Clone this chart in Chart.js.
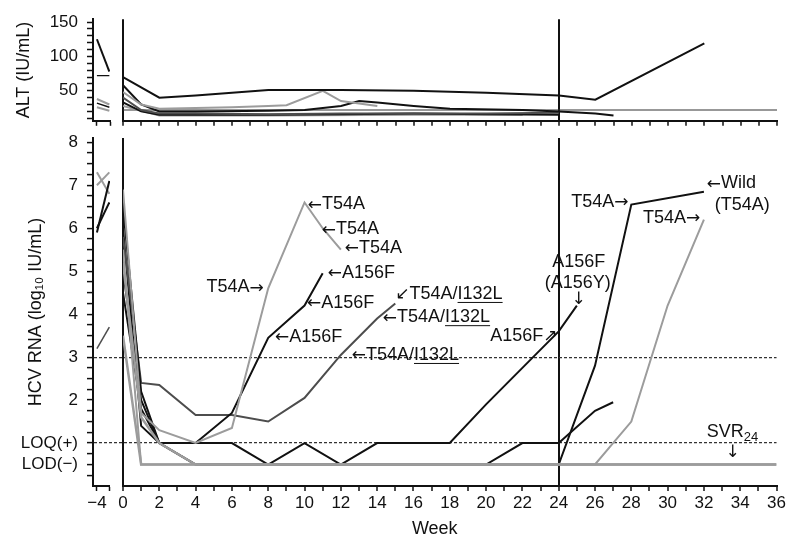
<!DOCTYPE html>
<html>
<head>
<meta charset="utf-8">
<script src="https://cdn.jsdelivr.net/npm/chart.js@4.4.1/dist/chart.umd.min.js"></script>
<style>
  html, body { margin: 0; padding: 0; background: #fff; }
  #wrap { position: relative; width: 788px; height: 538px; }
  canvas { position: absolute; left: 0; top: 0; }
</style>
</head>
<body>
<div id="wrap">
  <canvas id="rnaChart" width="788" height="538"></canvas>
  <canvas id="altChart" width="788" height="140"></canvas>
</div>
<script>
// ---- data (weeks / values) ----
// pre-treatment part of the broken axis (week -4, lines cut at the break)
const preWeeks = [-4, -3.05];
const preRna1 = [5.9, 7.1];
const preRna2 = [6.0, 6.6];
const preRna3 = [7.0, 7.3];
const preRna4 = [7.3, 6.8];
const preRna5 = [3.2, 3.7];
const preAlt1 = [125, 78];
const preAlt2 = [72, 72];
const preAlt3 = [38, 30];
const preAlt4 = [32, 26];
const preAlt5 = [26, 21];

// HCV RNA (log10 IU/mL), one pair of arrays per patient
const wk1 = [0, 1, 2, 4, 6, 8, 10, 11, 12];
const rna1 = [6.9, 1.7, 1.3, 1.0, 1.35, 4.6, 6.6, 6.0, 5.5];
const wk2 = [0, 1, 2, 4, 6, 8, 10, 11];
const rna2 = [6.5, 2.2, 1.0, 1.0, 1.7, 3.45, 4.2, 4.95];
const wk3 = [0, 1, 2, 4, 6, 8, 10, 12, 14, 15];
const rna3 = [5.8, 2.4, 2.35, 1.65, 1.65, 1.5, 2.05, 3.05, 3.9, 4.25];
const wk4 = [0, 1, 2, 4, 6, 8, 10, 12, 14, 16, 18, 20, 22, 24, 25];
const rna4 = [5.0, 2.0, 1.0, 1.0, 1.0, 0.5, 1.0, 0.5, 1.0, 1.0, 1.0, 1.9, 2.75, 3.6, 4.2];
const wk5 = [0, 1, 2, 4, 20, 22, 24, 26, 27];
const rna5 = [4.5, 1.8, 1.0, 0.5, 0.5, 1.0, 1.0, 1.75, 1.95];
const wk6 = [0, 1, 2, 4, 24, 26, 28, 32];
const rna6 = [6.0, 1.4, 1.0, 0.5, 0.5, 2.8, 6.55, 6.85];
const wk7 = [0, 1, 26, 28, 30, 32];
const rna7 = [5.5, 0.5, 0.5, 1.5, 4.2, 6.2];
const wk8 = [0, 1, 36];
const rna8 = [3.5, 0.5, 0.5];
const wk9 = [0, 1, 2, 4, 36];
const rna9 = [5.2, 1.6, 1.0, 0.5, 0.5];

// ALT (IU/mL)
const altWk1 = [0, 2, 4, 6, 8, 12, 16, 20, 24, 26, 32];
const alt1 = [70, 40, 43, 47, 51, 51, 50, 47, 43, 37, 119];
const altWk2 = [0, 1, 2, 4, 6, 8, 9, 11, 12, 14];
const alt2 = [48, 30, 24, 25, 26, 28, 29, 50, 35, 28];
const altWk3 = [0, 1, 2, 4, 8, 10, 12, 13, 14, 16, 18, 22, 24, 26, 27];
const alt3 = [58, 30, 20, 20, 21, 22, 28, 35, 33, 28, 24, 22, 20, 17, 14];
const altWk4 = [0, 1, 2, 4, 8, 12, 16, 20, 24];
const alt4 = [40, 22, 17, 17, 16, 17, 17, 17, 18];
const altWk5 = [0, 1, 2, 4, 8, 12, 16, 20, 24];
const alt5 = [33, 20, 15, 15, 15, 16, 17, 16, 15];
const altWk6 = [0, 2, 8, 16, 22];
const alt6 = [28, 14, 14, 15, 15];
const altUpperLimit = 22;
const altSpan = [0, 36];

// axis ticks
const weekTicks = [0, 1, 2, 3, 4, 5, 6, 7, 8, 9, 10, 11, 12, 13, 14, 15, 16, 17, 18,
  19, 20, 21, 22, 23, 24, 25, 26, 27, 28, 29, 30, 31, 32, 33, 34, 35, 36];
const weekLabels = [0, 2, 4, 6, 8, 10, 12, 14, 16, 18, 20, 22, 24, 26, 28, 30, 32, 34, 36];
const rnaLabels = { 0.5: 'LOD(\u2212)', 1: 'LOQ(+)', 2: '2', 3: '3', 4: '4', 5: '5', 6: '6', 7: '7', 8: '8' };
const altLabels = [50, 100, 150];

// text notes, placed in data units (week, log10 value)
const notes = [
  { text: 'T54A\u2192', x: 7.75, y: 4.63, align: 'right' },
  { text: '\u2190T54A', x: 10.18, y: 6.56 },
  { text: '\u2190T54A', x: 10.95, y: 5.98 },
  { text: '\u2190T54A', x: 12.22, y: 5.54 },
  { text: '\u2190A156F', x: 11.28, y: 4.96 },
  { text: '\u2190A156F', x: 10.13, y: 4.26 },
  { text: '\u2190A156F', x: 8.37, y: 3.47 },
  { text: '\u2199T54A/I132L', x: 15.0, y: 4.47, under: 'I132L' },
  { text: '\u2190T54A/I132L', x: 14.31, y: 3.93, under: 'I132L' },
  { text: '\u2190T54A/I132L', x: 12.6, y: 3.05, under: 'I132L' },
  { text: 'A156F\u2197', x: 23.94, y: 3.49, align: 'right' },
  { text: 'A156F', x: 25.1, y: 5.21, align: 'center' },
  { text: '(A156Y)', x: 25.05, y: 4.73, align: 'center' },
  { text: '\u2193', x: 25.1, y: 4.36, align: 'center' },
  { text: 'T54A\u2192', x: 27.85, y: 6.61, align: 'right' },
  { text: 'T54A\u2192', x: 31.8, y: 6.24, align: 'right' },
  { text: '\u2190Wild', x: 32.15, y: 7.05 },
  { text: '(T54A)', x: 32.59, y: 6.54 },
  { text: 'SVR', x: 32.15, y: 1.26, sub: '24' },
  { text: '\u2193', x: 33.58, y: 0.8, align: 'center' }
];

// ---- helpers ----
const FAMILY = '"Liberation Sans", Arial, Helvetica, sans-serif';
const ARROW_FONT = '17px "DejaVu Sans", sans-serif';
const TEXT_FONT = '18px ' + FAMILY;
const BLACK = '#111';
const GRAY = '#9c9c9c';
const DARK = '#4d4d4d';
const NONE = 'rgba(0,0,0,0)';

function pts(xs, ys) {
  return xs.map((v, i) => ({ x: v, y: ys[i] }));
}

function series(xs, ys, color, xAxisID = 'x', width = 2) {
  return {
    data: pts(xs, ys), borderColor: color, borderWidth: width,
    xAxisID: xAxisID, yAxisID: 'y', pointRadius: 0, tension: 0, fill: false
  };
}

function weekScales(height, showLabels) {
  return {
    xl: {
      type: 'linear', position: 'bottom', stack: 'wk', stackWeight: 17,
      min: -4.3, max: -3.0,
      afterBuildTicks: s => { s.ticks = [{ value: -4 }, { value: -3 }]; },
      afterFit: s => { s.height = height; },
      grid: { drawOnChartArea: false, tickLength: 5, tickColor: BLACK, tickWidth: 1.5 },
      border: { color: BLACK, width: 2 },
      ticks: {
        display: showLabels, color: BLACK, font: { family: FAMILY, size: 17 }, padding: 2,
        maxRotation: 0, autoSkip: false, callback: v => v === -4 ? '\u22124' : ''
      }
    },
    xg: {
      type: 'linear', position: 'bottom', stack: 'wk', stackWeight: 13,
      min: 0, max: 1,
      afterBuildTicks: s => { s.ticks = []; },
      afterFit: s => { s.height = height; },
      grid: { display: false },
      border: { display: false },
      ticks: { display: false }
    },
    x: {
      type: 'linear', position: 'bottom', stack: 'wk', stackWeight: 654,
      min: 0, max: 36,
      afterBuildTicks: s => { s.ticks = weekTicks.map(v => ({ value: v })); },
      afterFit: s => { s.height = height; },
      grid: {
        color: c => (c.tick && (c.tick.value === 0 || c.tick.value === 24)) ? BLACK : NONE,
        lineWidth: 2, tickColor: BLACK, tickLength: 5, tickWidth: 1.5
      },
      border: { color: BLACK, width: 2 },
      ticks: {
        display: showLabels, color: BLACK, font: { family: FAMILY, size: 17 }, padding: 2,
        maxRotation: 0, autoSkip: false,
        callback: v => weekLabels.includes(v) ? String(v) : ''
      }
    }
  };
}

// split a note into plain text runs and arrow runs (arrows use a font with wider glyphs)
function runsOf(text) {
  const out = [];
  for (const ch of text) {
    const arrow = /[\u2190-\u21ff]/.test(ch);
    const last = out[out.length - 1];
    if (last && last.arrow === arrow) last.t += ch;
    else out.push({ t: ch, arrow: arrow });
  }
  return out;
}

const notePlugin = {
  id: 'notes',
  afterDatasetsDraw(chart) {
    const { ctx } = chart;
    const x = chart.scales.x, y = chart.scales.y;
    ctx.save();
    ctx.fillStyle = BLACK;
    ctx.textBaseline = 'middle';
    ctx.textAlign = 'left';
    notes.forEach(n => {
      const px = x.getPixelForValue(n.x);
      const py = y.getPixelForValue(n.y);
      const runs = runsOf(n.text);
      let w = 0;
      runs.forEach(r => {
        ctx.font = r.arrow ? ARROW_FONT : TEXT_FONT;
        r.w = ctx.measureText(r.t).width;
        w += r.w;
      });
      let cx = n.align === 'right' ? px - w : n.align === 'center' ? px - w / 2 : px;
      runs.forEach(r => {
        ctx.font = r.arrow ? ARROW_FONT : TEXT_FONT;
        ctx.fillText(r.t, cx, r.arrow ? py + 1 : py);
        if (n.under && !r.arrow && r.t.includes(n.under)) {
          const i = r.t.indexOf(n.under);
          const a = cx + ctx.measureText(r.t.slice(0, i)).width;
          const b = a + ctx.measureText(n.under).width;
          ctx.fillRect(a, py + 8, b - a, 1);
        }
        cx += r.w;
      });
      if (n.sub) {
        ctx.font = '13px ' + FAMILY;
        ctx.fillText(n.sub, cx, py + 6);
      }
    });
    ctx.restore();
  }
};

// ---- HCV RNA panel ----
const rnaMinor = [];
for (let v = 0.25; v <= 8; v += 0.25) rnaMinor.push(v);

new Chart(document.getElementById('rnaChart'), {
  type: 'line',
  data: {
    datasets: [
      series(wk8, rna8, GRAY, 'x', 2.5),
      series(wk9, rna9, GRAY, 'x', 2.5),
      series(wk7, rna7, GRAY),
      series(wk1, rna1, GRAY),
      series(wk2, rna2, BLACK),
      series(wk3, rna3, DARK),
      series(wk4, rna4, BLACK),
      series(wk5, rna5, BLACK),
      series(wk6, rna6, BLACK),
      series(preWeeks, preRna1, BLACK, 'xl'),
      series(preWeeks, preRna2, BLACK, 'xl'),
      series(preWeeks, preRna3, GRAY, 'xl'),
      series(preWeeks, preRna4, GRAY, 'xl'),
      series(preWeeks, preRna5, DARK, 'xl', 1.5)
    ]
  },
  options: {
    responsive: false,
    animation: false,
    layout: { padding: { top: 138, right: 11, left: 0, bottom: 0 } },
    plugins: {
      legend: { display: false },
      tooltip: { enabled: false },
      title: {
        display: true, text: 'Week', position: 'bottom', fullSize: false, color: BLACK,
        font: { family: FAMILY, size: 18, weight: 'normal', lineHeight: 1 },
        padding: { top: 0, bottom: 0 }
      }
    },
    scales: Object.assign(weekScales(34, true), {
      y: {
        type: 'linear', position: 'left', min: 0, max: 8.1,
        afterBuildTicks: s => { s.ticks = rnaMinor.map(v => ({ value: v })); },
        afterFit: s => { s.width = 93; },
        grid: {
          color: c => (c.tick && (c.tick.value === 3 || c.tick.value === 1)) ? '#333' : NONE,
          lineWidth: 1.2, tickColor: BLACK, tickLength: 6, tickWidth: 1.5
        },
        border: { color: BLACK, width: 2, dash: [3, 2] },
        ticks: {
          color: BLACK, font: { family: FAMILY, size: 17 }, padding: 9, autoSkip: false,
          callback: v => rnaLabels[v] || ''
        },
        title: {
          display: true, text: 'HCV RNA (log\u2081\u2080 IU/mL)', color: BLACK,
          font: { family: FAMILY, size: 18 }, padding: { top: 25, bottom: 0 }
        }
      }
    })
  },
  plugins: [notePlugin]
});

// ---- ALT panel ----
new Chart(document.getElementById('altChart'), {
  type: 'line',
  data: {
    datasets: [
      series(altWk1, alt1, BLACK),
      series(altWk2, alt2, GRAY),
      series(altWk3, alt3, BLACK),
      series(altWk4, alt4, DARK),
      series(altWk5, alt5, BLACK),
      series(altWk6, alt6, GRAY),
      series(altSpan, [altUpperLimit, altUpperLimit], '#333', 'x', 1.2),
      series(preWeeks, preAlt1, BLACK, 'xl'),
      series(preWeeks, preAlt2, BLACK, 'xl', 1.2),
      series(preWeeks, preAlt3, GRAY, 'xl'),
      series(preWeeks, preAlt4, BLACK, 'xl', 1.5),
      series(preWeeks, preAlt5, GRAY, 'xl')
    ]
  },
  options: {
    responsive: false,
    animation: false,
    layout: { padding: { top: 18, right: 11, left: 0, bottom: 0 } },
    plugins: { legend: { display: false }, tooltip: { enabled: false } },
    scales: Object.assign(weekScales(17, false), {
      y: {
        type: 'linear', position: 'left', min: 6.3, max: 154.2,
        afterBuildTicks: s => {
          const t = [];
          for (let v = 10; v <= 150; v += 10) t.push({ value: v });
          s.ticks = t;
        },
        afterFit: s => { s.width = 93; },
        grid: { color: NONE, tickColor: BLACK, tickLength: 6, tickWidth: 1.5 },
        border: { color: BLACK, width: 2 },
        ticks: {
          color: BLACK, font: { family: FAMILY, size: 17 }, padding: 9, autoSkip: false,
          callback: v => altLabels.includes(v) ? String(v) : ''
        },
        title: {
          display: true, text: 'ALT (IU/mL)', color: BLACK,
          font: { family: FAMILY, size: 18 }, padding: { top: 13, bottom: 0 }
        }
      }
    })
  }
});
</script>
</body>
</html>
